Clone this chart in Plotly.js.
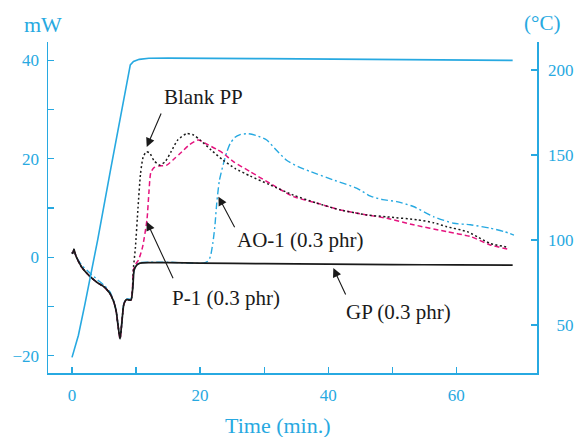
<!DOCTYPE html>
<html>
<head>
<meta charset="utf-8">
<script src="https://cdn.plot.ly/plotly-3.0.1.min.js"></script>
<style>html,body{margin:0;padding:0;background:#fff;}#chart{width:576px;height:437px;}</style>
</head>
<body>
<div id="chart"></div>
<script>
// Temperature program (right axis, °C)
const tempTime = [0, 0.5, 1, 2, 4, 6, 8, 9.1, 9.6, 10.5, 12, 15, 30, 50, 68.8];
const tempC    = [31, 37, 44, 62, 100, 141, 182, 203, 205, 206.3, 206.9, 207, 206.7, 206.2, 205.7];

// GP (0.3 phr) – solid black
const gpTime = [0, 0.1, 0.3, 0.6, 1.5, 2.8, 4, 5, 5.9, 6.5, 6.9, 7.2, 7.5, 7.8, 8.1, 8.5, 9.2, 9.5, 9.7, 10.1, 10.6, 12.2, 15, 20, 30, 40, 50, 60, 68.8];
const gpMW   = [1.0, 0.8, 1.6, 0.3, -2.0, -3.9, -5.2, -6.0, -7.3, -9.0, -11, -14, -16.6, -13, -9.5, -8.6, -8.7, -6, -2.6, -1.6, -1.2, -1.1, -1.1, -1.2, -1.3, -1.4, -1.5, -1.55, -1.6];

// Blank PP – dotted black
const blankTime = [0, 0.1, 0.3, 0.6, 1.5, 2.8, 4, 5, 5.9, 6.5, 6.9, 7.2, 7.5, 7.8, 8.1, 8.5, 9.2, 9.6, 9.9, 10.3, 10.7, 11.1, 11.6, 12.1, 12.8, 13.7, 14.6, 15.5, 16.5, 17.9, 19, 20, 21.7, 23.6, 25.5, 27.8, 30.9, 34.6, 38.2, 41.9, 46, 49.2, 53.9, 56.5, 58.5, 61.7, 63.5, 65.3, 68.2];
const blankMW   = [1.0, 0.8, 1.6, 0.3, -2.0, -3.9, -5.2, -6.0, -7.3, -9.0, -11, -14, -16.6, -13, -9.5, -8.6, -8.7, -2, 2, 10, 17, 20.3, 21.4, 21.2, 19.6, 18.7, 19.5, 21.5, 23.8, 25.1, 24.8, 23.8, 21.8, 19.7, 18, 16.5, 14.7, 12.6, 11, 9.6, 8.6, 8.2, 7.6, 7.0, 6.2, 5.2, 4.0, 2.8, 2.0];

// P-1 (0.3 phr) – dashed magenta
const p1Time = [0, 0.1, 0.3, 0.6, 1.5, 2.8, 4, 5, 5.9, 6.5, 6.9, 7.2, 7.5, 7.8, 8.1, 8.5, 9.2, 9.6, 10.0, 10.4, 11.0, 11.7, 12.0, 12.3, 12.8, 13.5, 14.8, 15.8, 16.9, 18.3, 19.7, 21, 22.6, 23.6, 25.2, 27.8, 30.9, 34.6, 38.2, 41.9, 46, 49.2, 53.3, 58.5, 62.2, 65.3, 68.2];
const p1MW   = [1.0, 0.8, 1.6, 0.3, -2.0, -3.9, -5.2, -6.0, -7.3, -9.0, -11, -14, -16.6, -13, -9.5, -8.6, -8.7, -2.5, -1.3, -0.5, 2, 7.6, 13, 17.2, 18.2, 18.5, 18.7, 19.8, 21.1, 22.8, 23.8, 23.0, 21.9, 21.1, 19.4, 17.4, 15, 12.3, 11, 9.6, 8.6, 7.9, 6.6, 5.2, 4.2, 2.5, 1.6];

// AO-1 (0.3 phr) – dash-dot blue
const ao1Time = [0, 0.1, 0.3, 0.6, 1.5, 2.8, 4, 5, 5.9, 6.5, 6.9, 7.2, 7.5, 7.8, 8.1, 8.5, 9.2, 9.5, 9.7, 10.1, 10.6, 12.2, 15, 20.5, 21.2, 21.6, 22, 22.3, 22.6, 23, 23.6, 24.2, 24.7, 25.4, 26.25, 27.5, 28.8, 30.4, 32, 33.5, 35.3, 37.2, 40.8, 44.5, 46.6, 48.5, 50.7, 53.3, 56.5, 59.6, 62.2, 65.3, 67.5, 69];
const ao1MW   = [1.0, 0.8, 1.6, 0.3, -1.6, -3.2, -4.6, -5.7, -7.0, -8.8, -11, -14, -16.4, -13, -9.3, -8.4, -8.5, -6, -2.5, -1.5, -1.1, -1.0, -1.0, -1.2, -0.8, 0.1, 3, 6.2, 11, 15.5, 18.8, 21.5, 23.1, 24.3, 24.9, 25.1, 24.7, 23.8, 21.6, 19.7, 18.4, 17.4, 15.7, 14, 12.4, 11.7, 11.3, 10.3, 8.2, 6.9, 6.6, 5.9, 5.2, 4.5];

// Axis ticks and labels
const xTicks = [0, 20, 40, 60];
const xMinor = [10, 30, 50];
const yTicks = [-20, 0, 20, 40];
const yTickText = ['\u221220', '0', '20', '40'];
const yMinor = [-10, 10, 30];
const y2Ticks = [50, 100, 150, 200];
const y2TickText = ['\u200750', '100', '150', '200'];

// Labels
const labelText = ['Blank PP', 'P-1 (0.3 phr)', 'AO-1 (0.3 phr)', 'GP (0.3 phr)'];
const labelX = [20.6, 24.0, 35.75, 51.0];
const labelY = [32.6, -8.3, 3.5, -11.2];
const arrowHeadX = [11.67, 11.67, 22.86, 40.8];
const arrowHeadY = [22.4, 7.2, 12.3, -2.2];
const arrowTailDX = [15, 27, 17, 13];
const arrowTailDY = [-35, 58, 32, 28];

const BLUE = '#27a9e1';
const MAGENTA = '#e5147f';
const BLACK = '#1a1a1a';
const FONT = 'Liberation Serif, DejaVu Serif, Times New Roman, serif';

const traces = [
  {x: tempTime, y: tempC, yaxis: 'y2', type: 'scatter', mode: 'lines', line: {color: BLUE, width: 1.6}, hoverinfo: 'skip'},
  {x: ao1Time, y: ao1MW, type: 'scatter', mode: 'lines', line: {color: BLUE, width: 1.4, dash: '7px,3px,2px,3px', shape: 'spline', smoothing: 0.6}},
  {x: p1Time, y: p1MW, type: 'scatter', mode: 'lines', line: {color: MAGENTA, width: 1.5, dash: '5px,3px', shape: 'spline', smoothing: 0.6}},
  {x: blankTime, y: blankMW, type: 'scatter', mode: 'lines', line: {color: BLACK, width: 1.5, dash: '2px,2.5px', shape: 'spline', smoothing: 0.6}},
  {x: gpTime, y: gpMW, type: 'scatter', mode: 'lines', line: {color: BLACK, width: 1.7, shape: 'spline', smoothing: 0.6}}
];

const annotations = [];
for (let i = 0; i < labelText.length; i++) {
  annotations.push({x: labelX[i], y: labelY[i], xref: 'x', yref: 'y', text: labelText[i], showarrow: false,
    font: {family: FONT, size: 21, color: BLACK}, xanchor: 'center', yanchor: 'middle'});
  annotations.push({x: arrowHeadX[i], y: arrowHeadY[i], xref: 'x', yref: 'y', text: '', showarrow: true,
    ax: arrowTailDX[i], ay: arrowTailDY[i], arrowhead: 2, arrowsize: 1.6, arrowwidth: 1.1, arrowcolor: BLACK, standoff: 0});
}
annotations.push({xref: 'paper', yref: 'paper', x: -0.0102, y: 1.054, text: 'mW', showarrow: false,
  font: {family: FONT, size: 22, color: BLUE}, xanchor: 'center', yanchor: 'middle'});
annotations.push({xref: 'paper', yref: 'paper', x: 1.011, y: 1.057, text: '(°C)', showarrow: false,
  font: {family: FONT, size: 21, color: BLUE}, xanchor: 'center', yanchor: 'middle'});
annotations.push({xref: 'paper', yref: 'paper', x: 0.470, y: -0.158, text: 'Time (min.)', showarrow: false,
  font: {family: FONT, size: 22, color: BLUE}, xanchor: 'center', yanchor: 'middle'});

const tickFont = {family: FONT, size: 17, color: BLUE};
const layout = {
  width: 576, height: 437,
  margin: {l: 48, r: 39, t: 42, b: 64},
  paper_bgcolor: '#fff', plot_bgcolor: '#fff',
  font: {family: FONT},
  showlegend: false,
  xaxis: {range: [-3.75, 72.6], showgrid: false, zeroline: false, showline: true, linecolor: BLUE, linewidth: 1.5,
    ticks: 'inside', ticklen: 6, tickcolor: BLUE, tickwidth: 1.3, tickvals: xTicks, tickfont: tickFont, ticklabelstandoff: 6,
    minor: {tickvals: xMinor, ticks: 'inside', ticklen: 6, tickcolor: BLUE, tickwidth: 1.3, showgrid: false}},
  yaxis: {range: [-23.5, 43.7], showgrid: false, zeroline: false, showline: true, linecolor: BLUE, linewidth: 1.5,
    ticks: 'inside', ticklen: 6, tickcolor: BLUE, tickwidth: 1.3, tickvals: yTicks, ticktext: yTickText, tickfont: tickFont, ticklabelstandoff: 4,
    minor: {tickvals: yMinor, ticks: 'inside', ticklen: 6, tickcolor: BLUE, tickwidth: 1.3, showgrid: false}},
  yaxis2: {range: [21.8, 216.5], overlaying: 'y', side: 'right', showgrid: false, zeroline: false, showline: true, linecolor: BLUE, linewidth: 1.5,
    ticks: 'inside', ticklen: 6, tickcolor: BLUE, tickwidth: 1.3, tickvals: y2Ticks, ticktext: y2TickText, tickfont: tickFont, ticklabelstandoff: 6},
  annotations: annotations
};

Plotly.newPlot('chart', traces, layout, {displayModeBar: false, staticPlot: true});
</script>
</body>
</html>
